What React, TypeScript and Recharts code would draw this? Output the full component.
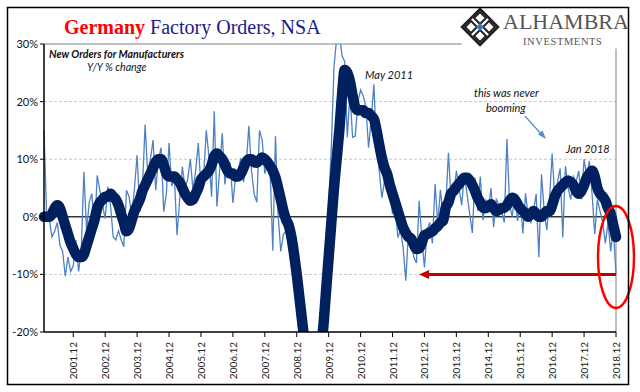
import React from 'react';
import { LineChart, Line, XAxis, YAxis, ReferenceLine, ReferenceDot } from 'recharts';

const years = [2001, 2002, 2003, 2004, 2005, 2006, 2007, 2008, 2009, 2010, 2011, 2012, 2013, 2014, 2015, 2016, 2017, 2018];
const months = ['01', '02', '03', '04', '05', '06', '07', '08', '09', '10', '11', '12'];

// monthly Y/Y % change, Jan 2001 .. Dec 2018
const ordersYoY = [
  15, 0, -0.5, -3.5, -2.5, -1, -5, -6, -10.3, -7, -9.5, -8.5,
  -4, -9.5, -6, 7.8, -2.4, 2.5, 4, -2.5, 7.2, 4.6, 2, -0.3,
  5.2, 2, -3.5, -4, -2.4, -4, -5.2, 4.6, 3.5, 0, 5, 10.7,
  0.9, 5, 16, 7.5, 10, 13.3, 4.6, 10, 12, 0.9, 4, 12.8,
  5.3, 7, -3.2, 3, 8.7, 5, 6.5, 10, 4.6, 8, 12.8, 5,
  7, 15, 10.4, 3.5, 18.3, 1.8, 8, 14.5, 5.6, 10, 9.2, 2.4,
  7, 8, 10.2, 6, 9, 15.8, 8, 4, 2.5, 15, 13.3, 7.5,
  9, 8, -5.9, 14, 0.3, -6, -3, -2.5, -5, -8, -11, -16,
  -21, -27, -33, -36, -37, -35, -32, -28, -24, -22, -10, 2,
  12, 26, 31, 32, 28, 27, 13.8, 21.4, 13.8, 14, 20, 22,
  21, 19, 12, 17, 23, 11.7, 8, 3.3, 6.3, 7, 5, 0.5,
  2, -3.6, -2.3, -5.4, -11.1, -2.3, -4.6, -7, -8, 2.8, -3.6, -8.8,
  -2.3, -1, -4.6, 5.7, -1.2, 4.7, 0, 1.5, 11.1, 3.3, 4, 8,
  5, 2, 7.4, 4, 0.5, -2.8, 6.8, 1, 7, -0.6, 3, 1,
  5, -1.8, 3, 2, 1, -1, 13.5, 2.2, 0, 4, -0.7, 3,
  -2.9, 4.1, 0, -1, 1, 4, -7, 7.4, 1, -2.3, 3, 11,
  3, 6, 8.4, -3.6, 8.8, 5, 3, 7, 6, 8, 3, 10,
  7, 9.7, 4, -3, 3, 1, -1, -4.6, -1, -6, -2, -9.9
];

// smoothed trend (thick line)
const ordersTrend = [
  0, 0, 0, 0.5, 1.5, 2, 1.5, 0, -1.5, -3, -4.5, -5.5,
  -6.5, -7, -7, -6.5, -5, -3.5, -2, -0.5, 1.5, 2.5, 3, 3.5,
  3.5, 4, 3.5, 3, 2, 0.5, -1, -2.5, -2, -0.5, 1, 2,
  3, 4.5, 5.5, 6.5, 7.5, 8.5, 9.5, 10, 10, 9, 7.5, 7,
  7, 7, 6.5, 6, 5, 4, 3.3, 2.8, 3, 4, 5, 6.5,
  7, 7.5, 8, 9, 10.5, 11, 10.5, 10, 9, 8, 7.5, 7.5,
  7, 7, 7.5, 8.5, 9.5, 10, 10, 9.5, 9.4, 9.8, 10.3, 10,
  9.5, 8.8, 8, 6.8, 5, 3, 1, -0.5, -1.5, -3.5, -6.5, -10,
  -14, -18, -22, -27, -30, -31, -30, -27, -23, -19, -13, -7,
  -1, 5, 10, 15, 21, 25.5, 25, 23.5, 21, 19, 18.5, 18.5,
  18.5, 18, 18, 17.5, 17, 15, 12.5, 10.2, 8.5, 7.4, 5.5, 4,
  2.5, 1, -0.5, -1.9, -2.8, -3.5, -3.8, -4.8, -5.6, -5.5, -4.5, -3.2,
  -3, -2.7, -2.5, -2, -1.6, -1, -0.7, 1.6, 2.5, 4, 4.5, 5.2,
  5.7, 6.3, 6.8, 6.8, 6.3, 5.5, 4.5, 3.3, 2.5, 1.6, 1.5, 1.8,
  2.2, 1.5, 1, 1.2, 1.5, 1.6, 2, 2.8, 3.3, 3, 2.2, 1.5,
  1, 0.5, 0, 0.5, 1, 0.5, 0, 0, 0.5, 1, 1, 2,
  3.5, 4.5, 5, 5.5, 6, 6.3, 6, 5.5, 4.5, 4, 4.5, 5.5,
  6.8, 7.5, 8, 7, 5, 4, 3.5, 2.8, 1.5, 0.5, -1.5, -3.5
];

const yearTicks = years.map((y) => `${y}.12`);
const pctTicks = [-20, -10, 0, 10, 20, 30];

const data = years.flatMap((y, i) =>
  months.map((m, j) => ({
    date: `${y}.${m}`,
    yoy: ordersYoY[i * 12 + j],
    trend: ordersTrend[i * 12 + j]
  }))
);

const sans = 'Lato, "Open Sans", sans-serif';

const XTick = ({ x, y, payload }: any) => (
  <text
    x={x + 4}
    y={y + 3}
    transform={`rotate(-90, ${x + 4}, ${y + 3})`}
    textAnchor='end'
    fontSize={10}
    fontFamily={sans}
    fill='#222'
  >
    {payload.value}
  </text>
);

const RedArrow = ({ x1, y1, x2, y2 }: any) => (
  <g>
    <line x1={x1 + 8} y1={y1} x2={x2} y2={y2} stroke='#c00000' strokeWidth={3} />
    <polygon points={`${x1},${y1} ${x1 + 10},${y1 - 4.5} ${x1 + 10},${y1 + 4.5}`} fill='#c00000' />
  </g>
);

const RedEllipse = ({ cx, cy }: any) => (
  <ellipse cx={cx} cy={cy} rx={18} ry={51} fill='none' stroke='#ff0000' strokeWidth={2.5} />
);

const Logo = () => (
  <g>
    <path d='M480,9 L498,27 L480,45 L462,27 Z' fill='none' stroke='#222' strokeWidth={2.5} />
    {[[480, 18], [489, 27], [480, 36], [471, 27]].map(([cx, cy], i) => (
      <path
        key={i}
        d={`M${cx},${cy - 6} L${cx + 6},${cy} L${cx},${cy + 6} L${cx - 6},${cy} Z`}
        fill='#fff'
        stroke='#222'
        strokeWidth={2}
      />
    ))}
    <path d='M480,23 L484,27 L480,31 L476,27 Z' fill='#3b73c8' />
    <text x={503} y={29} fontFamily='"Liberation Serif", serif' fontSize={22} fill='#555'>ALHAMBRA</text>
    <text x={523} y={45} fontFamily='"Liberation Serif", serif' fontSize={10.5} fill='#555' letterSpacing={0.6}>INVESTMENTS</text>
  </g>
);

const App = () => (
  <div style={{ position: 'absolute', left: 0, top: 0, width: 640, height: 392, background: '#fff' }}>
    <LineChart
      width={640}
      height={392}
      data={data}
      margin={{ top: 44, right: 24, left: 8, bottom: 10 }}
    >
      <XAxis
        dataKey='date'
        ticks={yearTicks}
        interval={0}
        tick={(p: any) => <XTick {...p} />}
        tickSize={5}
        height={50}
        axisLine={{ stroke: '#000', strokeWidth: 1.5 }}
        tickLine={{ stroke: '#000' }}
      />
      <YAxis
        domain={[-20, 30]}
        ticks={pctTicks}
        interval={0}
        allowDataOverflow
        width={36}
        tickSize={4}
        tickFormatter={(v: number) => `${v}%`}
        tick={{ fontSize: 11, fontFamily: sans, fill: '#111' }}
        axisLine={{ stroke: '#000', strokeWidth: 1.5 }}
        tickLine={{ stroke: '#000' }}
      />
      {[20, 10, -10].map((v) => (
        <ReferenceLine key={v} y={v} stroke='#c8c8c8' strokeDasharray='3 2' />
      ))}
      <ReferenceLine
        segment={[{ x: '2001.01', y: 30 }, { x: '2014.02', y: 30 }]}
        stroke='#808080'
        strokeWidth={1}
      />
      <ReferenceLine
        segment={[{ x: '2018.12', y: -20 }, { x: '2018.12', y: 29.2 }]}
        stroke='#808080'
        strokeWidth={1}
      />
      <ReferenceLine y={0} stroke='#333' strokeWidth={1.5} />
      <Line
        type='linear'
        dataKey='yoy'
        stroke='#4f81c4'
        strokeWidth={1.3}
        dot={false}
        isAnimationActive={false}
      />
      <Line
        type='monotone'
        dataKey='trend'
        stroke='#002060'
        strokeWidth={10.5}
        strokeLinejoin='round'
        strokeLinecap='round'
        dot={false}
        isAnimationActive={false}
      />
      <ReferenceLine
        segment={[{ x: '2012.10', y: -10 }, { x: '2018.12', y: -10 }]}
        shape={(p: any) => <RedArrow {...p} />}
      />
      <ReferenceDot x='2018.12' y={-7} r={1} shape={(p: any) => <RedEllipse {...p} />} />
    </LineChart>
    <svg width={640} height={392} style={{ position: 'absolute', left: 0, top: 0, pointerEvents: 'none' }}>
      <rect x={7.5} y={7.5} width={621} height={377} fill='none' stroke='#000' strokeWidth={1.5} />
      <text x={64} y={34} fontFamily='"Liberation Serif", serif' fontSize={20}>
        <tspan fill='#ff0000' fontWeight='bold'>Germany</tspan>
        <tspan fill='#1a1a8c'> Factory Orders, NSA</tspan>
      </text>
      <Logo />
      <text x={49} y={58} fontFamily={sans} fontSize={10.5} fontWeight='bold' fontStyle='italic' fill='#111'>
        New Orders for Manufacturers
      </text>
      <text x={87} y={71} fontFamily={sans} fontSize={10.5} fontStyle='italic' fill='#111'>Y/Y % change</text>
      <text x={365} y={79} fontFamily={sans} fontSize={11} fontStyle='italic' fill='#111'>May 2011</text>
      <text x={474} y={97} fontFamily={sans} fontSize={11} fontStyle='italic' fill='#111'>this was never</text>
      <text x={486} y={112} fontFamily={sans} fontSize={11} fontStyle='italic' fill='#111'>booming</text>
      <text x={566} y={153} fontFamily={sans} fontSize={11} fontStyle='italic' fill='#111'>Jan 2018</text>
      <line x1={525} y1={116} x2={542} y2={135} stroke='#5b8cc8' strokeWidth={1.2} />
      <polygon points='546,139 538,134.5 542.5,130.5' fill='#5b8cc8' />
    </svg>
  </div>
);

export default App;
